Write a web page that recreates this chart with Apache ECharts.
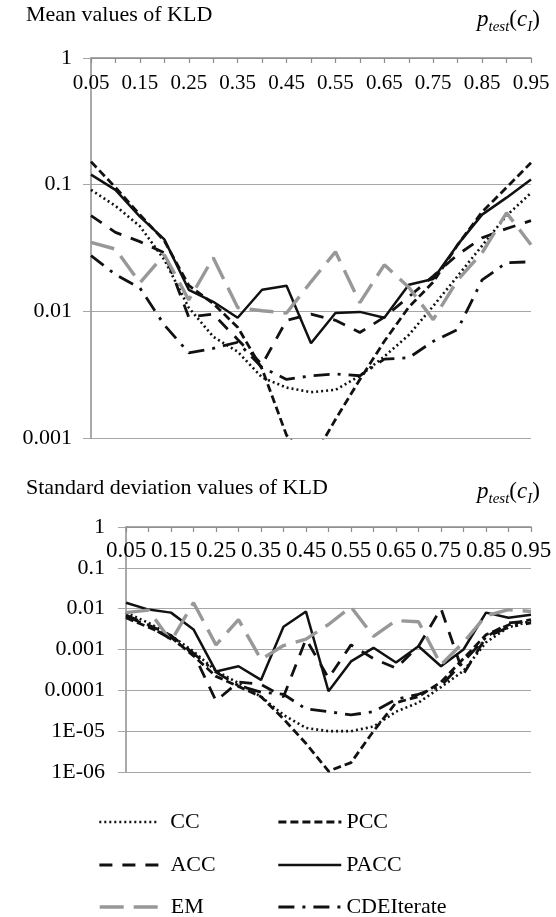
<!DOCTYPE html>
<html>
<head>
<meta charset="utf-8">
<script src="https://cdn.jsdelivr.net/npm/echarts@6/dist/echarts.min.js"></script>
<style>
html,body{margin:0;padding:0;background:#fff;}
#chart{width:556px;height:917px;}
</style>
</head>
<body>
<div id="chart"></div>
<script>
// ---- data ----
var categories = ['0.05','0.1','0.15','0.2','0.25','0.3','0.35','0.4','0.45','0.5','0.55','0.6','0.65','0.7','0.75','0.8','0.85','0.9','0.95'];
var seriesNames = ['CC','PCC','ACC','PACC','EM','CDEIterate'];

var meanTitle = 'Mean values of KLD';
var sdTitle = 'Standard deviation values of KLD';
var meanYLabels = ['1','0.1','0.01','0.001'];
var sdYLabels = ['1','0.1','0.01','0.001','0.0001','1E-05','1E-06'];

var meanCC   = [0.091,0.068,0.047,0.0255,0.0107,0.0063,0.0048,0.003,0.0025,0.0023,0.0024,0.0031,0.0044,0.0065,0.011,0.019,0.033,0.057,0.086];
var meanPCC  = [0.152,0.095,0.058,0.036,0.016,0.0115,0.0075,0.0035,0.00105,0.00065,0.0014,0.0029,0.0058,0.0108,0.017,0.0335,0.061,0.095,0.149];
var meanACC  = [0.057,0.042,0.0355,0.029,0.009,0.0095,0.006,0.0038,0.0085,0.0095,0.0085,0.0068,0.009,0.013,0.019,0.028,0.038,0.045,0.052];
var meanPACC = [0.12,0.091,0.056,0.037,0.0148,0.0119,0.0089,0.0148,0.0159,0.0056,0.0097,0.0099,0.0089,0.0162,0.018,0.0336,0.058,0.079,0.11];
var meanEM   = [0.035,0.031,0.0168,0.028,0.0123,0.0265,0.0107,0.0101,0.0097,0.0171,0.0295,0.0117,0.0233,0.0155,0.0086,0.0177,0.029,0.06,0.0335];
var meanCDE  = [0.0275,0.0195,0.0153,0.0078,0.0047,0.0051,0.0057,0.0036,0.0029,0.0031,0.0032,0.0031,0.0042,0.0043,0.0058,0.0072,0.0177,0.0242,0.0246];

var sdCC   = [0.008,0.0045,0.0022,0.0009,0.0003,0.00015,0.00007,0.000025,0.000012,0.00001,0.00001,0.000013,0.00003,0.00005,0.00012,0.0003,0.0015,0.0035,0.005];
var sdPCC  = [0.006,0.0035,0.002,0.0007,0.00022,0.000125,0.00007,0.00002,0.000005,0.00000105,0.0000017,0.00001,0.00005,0.00007,0.00016,0.0006,0.0023,0.004,0.0054];
var sdACC  = [0.007,0.004,0.0022,0.0008,0.000055,0.00016,0.00014,0.00007,0.0018,0.0002,0.0013,0.0006,0.00035,0.0012,0.01,0.00025,0.002,0.0045,0.005];
var sdPACC = [0.014,0.0095,0.008,0.0031,0.00029,0.00039,0.00018,0.0036,0.0085,0.000095,0.00051,0.0011,0.00048,0.0012,0.00039,0.001,0.008,0.006,0.0071];
var sdEM   = [0.008,0.0092,0.0016,0.014,0.0013,0.0054,0.00057,0.00125,0.0018,0.0041,0.011,0.0021,0.0051,0.0048,0.00042,0.0015,0.0067,0.0095,0.0085];
var sdCDE  = [0.0065,0.0038,0.0018,0.0008,0.00028,0.00013,0.00009,0.00008,0.000035,0.00003,0.000025,0.00003,0.00006,0.00008,0.00013,0.0005,0.002,0.0035,0.0045];

// legend placement: [name, left, top, itemWidth, textGap]
var legendLayout = [
  ['CC', 98, 811, 60, 6], ['PCC', 277, 811, 63, 0],
  ['ACC', 98, 854, 60, 6], ['PACC', 277, 854, 63, 0],
  ['EM', 98, 896, 60, 6], ['CDEIterate', 277, 896, 63, 0]
];

// ---- styles ----
var FONT = 'Liberation Serif';
var GRID_GRAY = '#a6a6a6';
var AXIS_GRAY = '#8c8c8c';
var styles = {
  'CC':        {color:'#111', width:2.6, type:[2,3]},
  'PCC':       {color:'#111', width:2.8, type:[8,4]},
  'ACC':       {color:'#111', width:2.8, type:[13,10]},
  'PACC':      {color:'#111', width:2.5, type:'solid'},
  'EM':        {color:'#989898', width:3.4, type:[24,10]},
  'CDEIterate':{color:'#111', width:2.8, type:[16,8,3,8]}
};
var meanData = {'CC':meanCC,'PCC':meanPCC,'ACC':meanACC,'PACC':meanPACC,'EM':meanEM,'CDEIterate':meanCDE};
var sdData = {'CC':sdCC,'PCC':sdPCC,'ACC':sdACC,'PACC':sdPACC,'EM':sdEM,'CDEIterate':sdCDE};

function makeSeries(dataMap, idx){
  return seriesNames.map(function(n){
    var s = styles[n];
    return {
      name:n, type:'line', xAxisIndex:idx, yAxisIndex:idx,
      data:dataMap[n], symbol:'none', smooth:false, clip:true,
      lineStyle:{color:s.color, width:s.width, type:s.type, cap:'butt'},
      itemStyle:{color:s.color},
      emphasis:{disabled:true}
    };
  });
}

function xAxisCfg(idx, fs, margin){
  return {
    type:'category', gridIndex:idx, data:categories, position:'top', boundaryGap:false,
    axisLine:{show:true, lineStyle:{color:AXIS_GRAY, width:1.5}},
    axisTick:{show:true, inside:true, length:5, interval:0, lineStyle:{color:AXIS_GRAY, width:1.2}},
    axisLabel:{show:true, inside:true, interval:1, margin:margin, color:'#000', fontFamily:FONT, fontSize:fs},
    splitLine:{show:false}
  };
}
function yAxisCfg(idx, minV, labels, fs, margin){
  return {
    type:'log', logBase:10, gridIndex:idx, min:minV, max:1, interval:1, splitNumber:labels.length-1,
    axisLine:{show:true, lineStyle:{color:AXIS_GRAY, width:1.5}},
    axisTick:{show:true, inside:false, length:8, lineStyle:{color:GRID_GRAY, width:1}},
    minorTick:{show:false},
    axisLabel:{show:true, margin:margin, color:'#000', fontFamily:FONT, fontSize:fs,
      formatter:function(v){ var k = Math.round(-Math.log(v)/Math.LN10); return labels[k] !== undefined ? labels[k] : ''; }},
    splitLine:{show:true, lineStyle:{color:GRID_GRAY, width:1.2}}
  };
}

var pRich = {
  m:{fontFamily:FONT, fontStyle:'italic', fontWeight:'normal', fontSize:23, color:'#000', lineHeight:30},
  n:{fontFamily:FONT, fontWeight:'normal', fontSize:23, color:'#000', lineHeight:30},
  s:{fontFamily:FONT, fontStyle:'italic', fontWeight:'normal', fontSize:15, color:'#000', lineHeight:15, verticalAlign:'bottom'}
};
var pText = '{m|p}{s|test}{n|(}{m|c}{s|I}{n|)}';

var legends = legendLayout.map(function(L){
  return {
    data:[L[0]], orient:'horizontal', left:L[1], top:L[2], padding:0,
    itemWidth:L[3], itemHeight:14, selectedMode:false,
    lineStyle:{width:'inherit'},
    itemStyle:{opacity:0, borderWidth:0},
    textStyle:{fontFamily:FONT, fontSize:22, color:'#000', lineHeight:22, padding:[0,0,0,L[4]]}
  };
});

var chart = echarts.init(document.getElementById('chart'), null, {renderer:'canvas'});
chart.setOption({
  animation:false,
  backgroundColor:'#fff',
  title:[
    {text:meanTitle, left:26, top:4, padding:0, textStyle:{fontFamily:FONT, fontSize:22, fontWeight:'normal', color:'#000'}},
    {text:pText, left:477, top:5, padding:0, textStyle:{fontWeight:'normal', rich:pRich}},
    {text:sdTitle, left:26, top:477, padding:0, textStyle:{fontFamily:FONT, fontSize:22, fontWeight:'normal', color:'#000'}},
    {text:pText, left:477, top:477, padding:0, textStyle:{fontWeight:'normal', rich:pRich}}
  ],
  legend:legends,
  grid:[
    {left:91, right:25, top:58, height:380, outerBoundsMode:'none', containLabel:false},
    {left:126, right:25, top:527, height:245, outerBoundsMode:'none', containLabel:false}
  ],
  xAxis:[ xAxisCfg(0, 21, 15), xAxisCfg(1, 23, 12) ],
  yAxis:[ yAxisCfg(0, 0.001, meanYLabels, 22, 19), yAxisCfg(1, 0.000001, sdYLabels, 22, 21) ],
  series: makeSeries(meanData, 0).concat(makeSeries(sdData, 1))
});
</script>
</body>
</html>
